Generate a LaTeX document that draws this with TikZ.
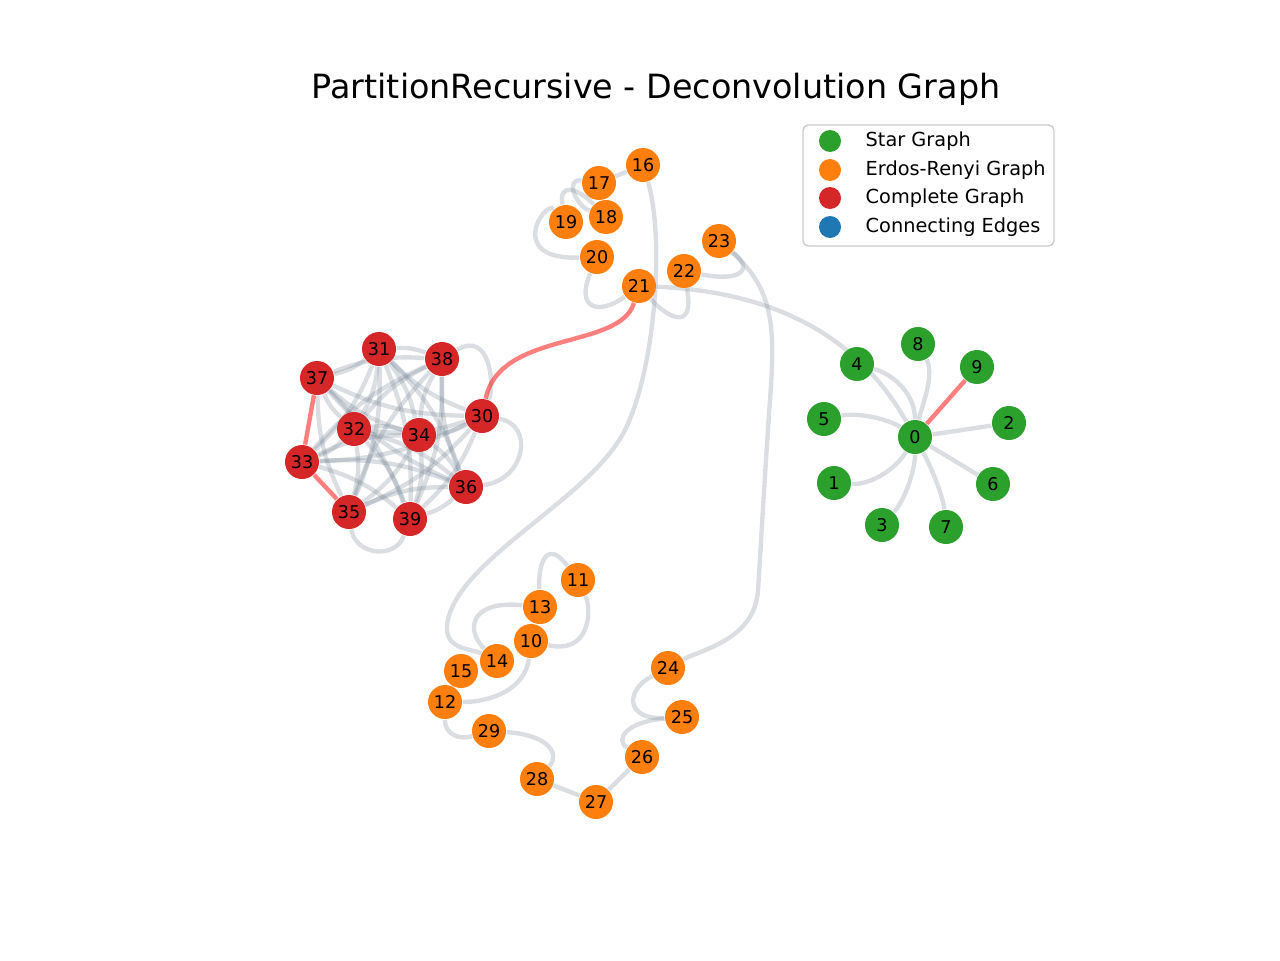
\documentclass[tikz,border=0pt]{standalone}
\usepackage{fontspec}
\setmainfont{DejaVu Sans}
\usetikzlibrary{backgrounds}
\definecolor{stargreen}{HTML}{2CA02C}
\definecolor{erorange}{HTML}{FF7F0E}
\definecolor{compred}{HTML}{D62728}
\definecolor{connblue}{HTML}{1F77B4}
\definecolor{edgegray}{RGB}{112,128,144}
\definecolor{legendgray}{HTML}{CCCCCC}

\begin{document}
\begin{tikzpicture}[x=0.02cm,y=-0.02cm,thick,
    main node/.style={circle,inner sep=0pt,minimum size=0.68cm,font=\fontsize{10}{12}\selectfont},
    gray edge/.style={draw=edgegray,draw opacity=0.26,line width=2.5pt},
    red edge/.style={draw=red,draw opacity=0.5,line width=2.5pt},
    legend dot/.style={circle,inner sep=0pt,minimum size=0.44cm},
    legend text/.style={anchor=west,inner sep=0pt,font=\fontsize{11}{13}\selectfont}]
    \useasboundingbox (0,0) rectangle (1280,960);

    \node (title) at (656,89) {\fontsize{19}{23}\selectfont PartitionRecursive - Deconvolution Graph};

    % star graph
    \node[main node] (0) [fill=stargreen] at (915,437) {0};
    \node[main node] (1) [fill=stargreen] at (834,483) {1};
    \node[main node] (2) [fill=stargreen] at (1009,423) {2};
    \node[main node] (3) [fill=stargreen] at (882,525) {3};
    \node[main node] (4) [fill=stargreen] at (857,364) {4};
    \node[main node] (5) [fill=stargreen] at (824,419) {5};
    \node[main node] (6) [fill=stargreen] at (993,484) {6};
    \node[main node] (7) [fill=stargreen] at (946,527) {7};
    \node[main node] (8) [fill=stargreen] at (918,344) {8};
    \node[main node] (9) [fill=stargreen] at (977,367) {9};

    % erdos-renyi graphs
    \node[main node] (10) [fill=erorange] at (531,641) {10};
    \node[main node] (11) [fill=erorange] at (578,580) {11};
    \node[main node] (12) [fill=erorange] at (445,702) {12};
    \node[main node] (13) [fill=erorange] at (540,607) {13};
    \node[main node] (14) [fill=erorange] at (497,661) {14};
    \node[main node] (15) [fill=erorange] at (461,671) {15};
    \node[main node] (16) [fill=erorange] at (643,165) {16};
    \node[main node] (17) [fill=erorange] at (599,183) {17};
    \node[main node] (18) [fill=erorange] at (606,217) {18};
    \node[main node] (19) [fill=erorange] at (566,222) {19};
    \node[main node] (20) [fill=erorange] at (597,257) {20};
    \node[main node] (21) [fill=erorange] at (639,286) {21};
    \node[main node] (22) [fill=erorange] at (684,271) {22};
    \node[main node] (23) [fill=erorange] at (719,241) {23};
    \node[main node] (24) [fill=erorange] at (668,668) {24};
    \node[main node] (25) [fill=erorange] at (682,717) {25};
    \node[main node] (26) [fill=erorange] at (642,757) {26};
    \node[main node] (27) [fill=erorange] at (596,802) {27};
    \node[main node] (28) [fill=erorange] at (537,779) {28};
    \node[main node] (29) [fill=erorange] at (489,731) {29};

    % complete graph
    \node[main node] (30) [fill=compred] at (482,416) {30};
    \node[main node] (31) [fill=compred] at (379,349) {31};
    \node[main node] (32) [fill=compred] at (354,429) {32};
    \node[main node] (33) [fill=compred] at (302,462) {33};
    \node[main node] (34) [fill=compred] at (419,435) {34};
    \node[main node] (35) [fill=compred] at (349,512) {35};
    \node[main node] (36) [fill=compred] at (466,487) {36};
    \node[main node] (37) [fill=compred] at (317,378) {37};
    \node[main node] (38) [fill=compred] at (442,359) {38};
    \node[main node] (39) [fill=compred] at (410,519) {39};

    \begin{scope}[on background layer]
        \path[gray edge]
                (0) edge (2)
                (0) edge (6)
                (12) edge (15)
                (28) edge (27)
                (27) edge (26)
                (16) edge (17)
            ;
        \draw[gray edge] (1) .. controls (870,485) and (895,470) .. (0);
        \draw[gray edge] (3) .. controls (905,500) and (915,470) .. (0);
        \draw[gray edge] (5) .. controls (860,412) and (890,420) .. (0);
        \draw[gray edge] (7) .. controls (943,495) and (930,465) .. (0);
        \draw[gray edge] (8) .. controls (935,375) and (922,405) .. (0);
        \draw[gray edge] (4) .. controls (895,375) and (915,395) .. (0);
        \draw[gray edge] (21) .. controls (780,292) and (860,340) .. (0);

        \draw[gray edge] (17) .. controls (565,178) and (575,205) .. (18);
        \draw[gray edge] (18) .. controls (578,188) and (558,182) .. (19);
        \draw[gray edge] (19) .. controls (545,200) and (505,260) .. (20);
        \draw[gray edge] (20) .. controls (575,310) and (600,315) .. (21);
        \draw[gray edge] (21) .. controls (665,315) and (695,335) .. (22);
        \draw[gray edge] (22) .. controls (740,282) and (755,270) .. (23);
        \draw[gray edge] (23) .. controls (775,290) and (775,330) .. (770,400)
            .. controls (765,470) and (760,560) .. (758,590)
            .. controls (755,640) and (700,650) .. (24);
        \draw[gray edge] (16) .. controls (665,240) and (655,370) .. (625,430)
            .. controls (590,500) and (455,560) .. (447,625)
            .. controls (445,650) and (470,648) .. (14);

        \draw[gray edge] (10) .. controls (590,655) and (592,610) .. (11);
        \draw[gray edge] (13) .. controls (538,560) and (548,540) .. (11);
        \draw[gray edge] (13) .. controls (470,600) and (465,630) .. (14);
        \draw[gray edge] (10) .. controls (525,690) and (490,702) .. (12);
        \draw[gray edge] (12) .. controls (445,735) and (460,740) .. (29);
        \draw[gray edge] (29) .. controls (550,735) and (560,755) .. (28);
        \draw[gray edge] (26) .. controls (615,740) and (625,722) .. (25);
        \draw[gray edge] (25) .. controls (625,720) and (625,690) .. (24);

        \path[gray edge,bend left=12]
                (30) edge (31) (30) edge (32) (30) edge (33) (30) edge (34)
                (30) edge (35) (30) edge (37) (30) edge (39)
                (31) edge (32) (31) edge (33) (31) edge (34) (31) edge (35)
                (31) edge (36) (31) edge (37) (31) edge (38) (31) edge (39)
                (32) edge (33) (32) edge (34) (32) edge (35) (32) edge (36)
                (32) edge (37) (32) edge (38) (32) edge (39)
                (33) edge (34) (33) edge (36) (33) edge (38) (33) edge (39)
                (34) edge (35) (34) edge (36) (34) edge (37) (34) edge (38)
                (34) edge (39)
                (35) edge (36) (35) edge (37) (35) edge (38)
                (36) edge (37) (36) edge (38) (36) edge (39)
                (37) edge (38) (37) edge (39)
                (38) edge (39)
            ;
        \draw[gray edge] (30) .. controls (535,425) and (525,480) .. (36);
        \draw[gray edge] (38) .. controls (490,330) and (495,385) .. (30);
        \draw[gray edge] (35) .. controls (355,555) and (395,560) .. (39);

        \path[red edge]
                (0) edge (9)
                (33) edge (37)
                (33) edge (35)
            ;
        \draw[red edge] (21) .. controls (620,350) and (500,330) .. (30);
    \end{scope}

    % legend
    \draw[legendgray,line width=0.8pt,fill=white,rounded corners=3pt] (803,125) rectangle (1054,246);
    \node[legend dot,fill=stargreen] (star dot) at (830,141) {};
    \node[legend dot,fill=erorange] (er dot) at (830,170) {};
    \node[legend dot,fill=compred] (comp dot) at (830,198) {};
    \node[legend dot,fill=connblue] (conn dot) at (830,227) {};
    \node[legend text] (star label) at (865,141) {Star Graph};
    \node[legend text] (er label) at (865,170) {Erdos-Renyi Graph};
    \node[legend text] (comp label) at (865,198) {Complete Graph};
    \node[legend text] (conn label) at (865,227) {Connecting Edges};
\end{tikzpicture}
\end{document}
